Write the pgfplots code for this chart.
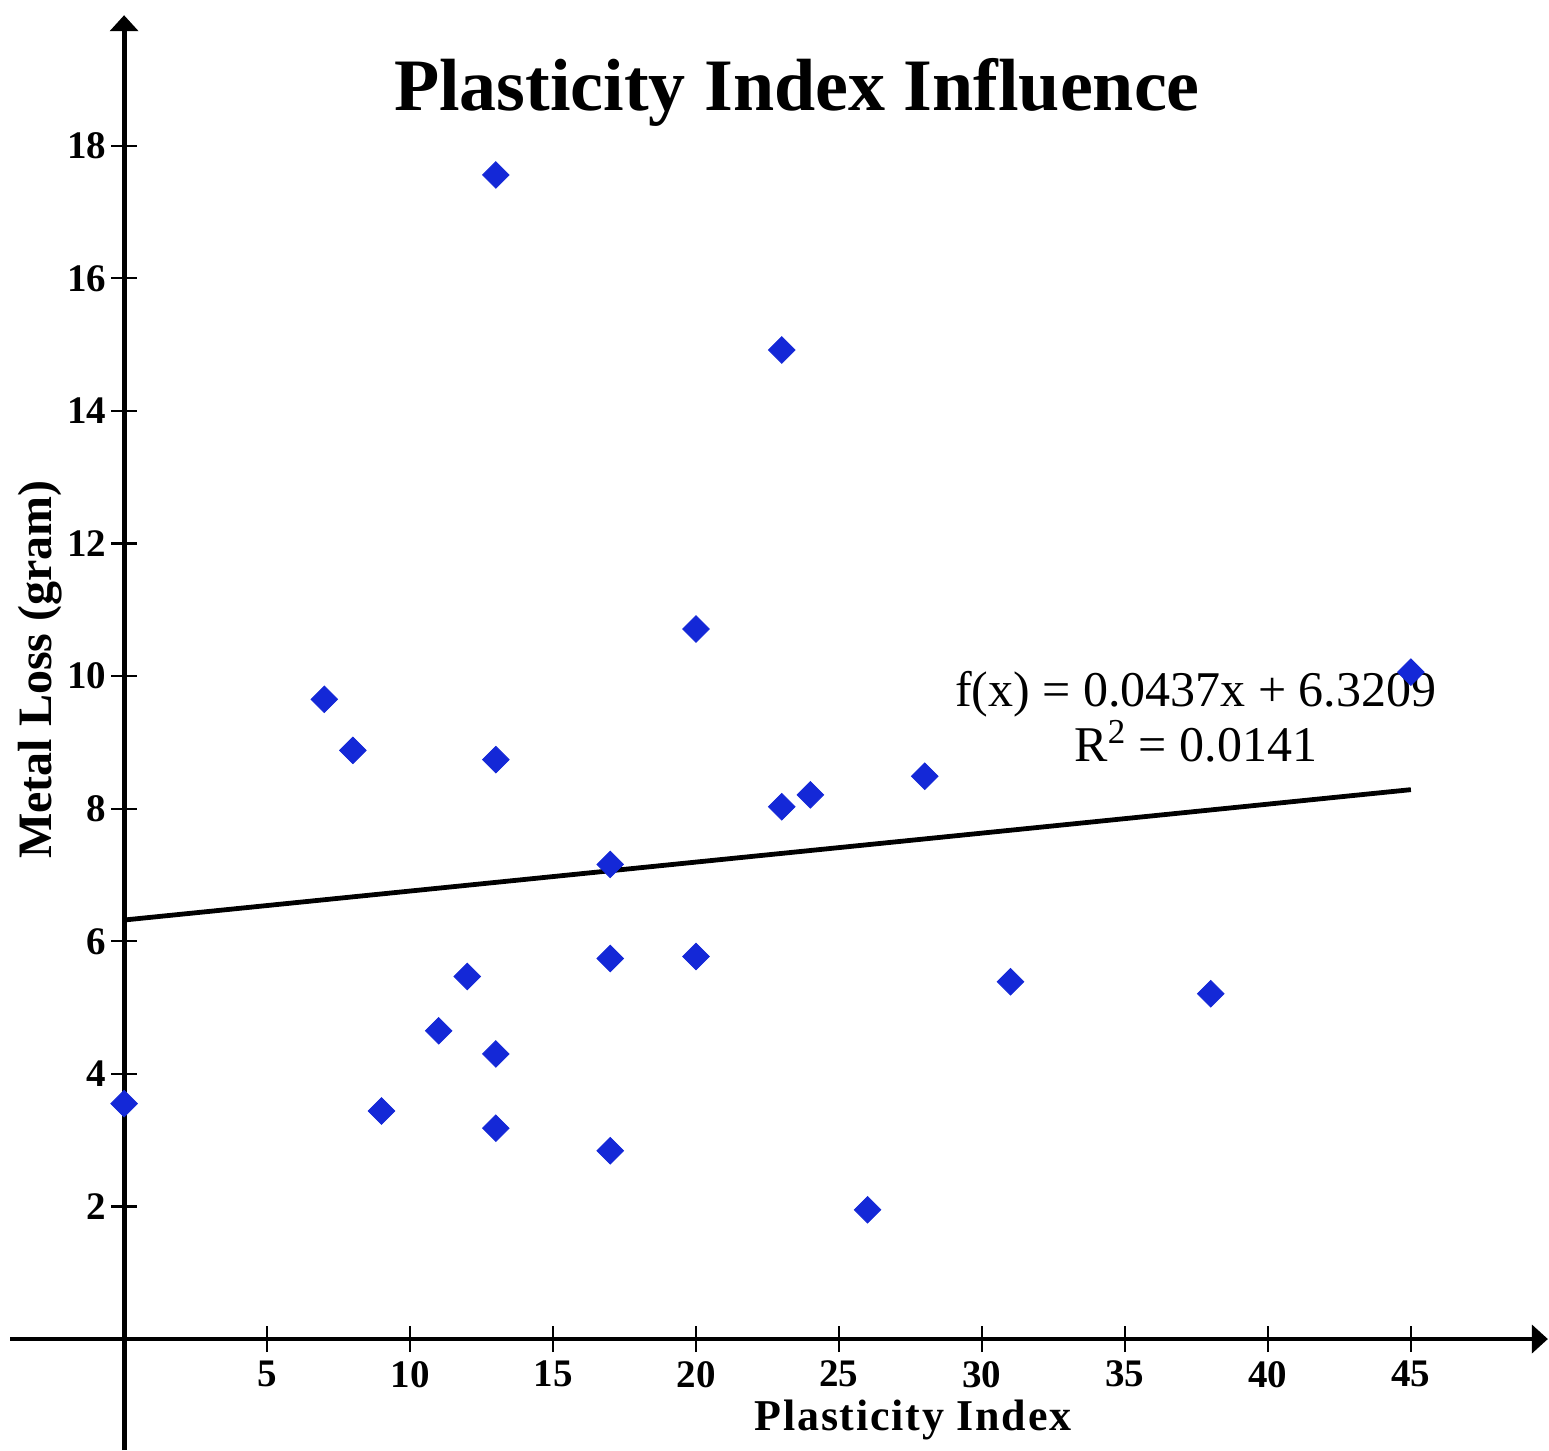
\documentclass[border=0pt]{standalone}
\usepackage{fontspec}
\setmainfont{Liberation Serif}
\usepackage{pgfplots}
\pgfplotsset{compat=1.18}
\usetikzlibrary{arrows.meta}
\definecolor{ptblue}{RGB}{20,40,215}
\begin{document}
\begin{tikzpicture}
\begin{axis}[
  x=14.3pt, y=33.15pt,
  xmin=-3.99, xmax=49.79, ymin=-1.674, ymax=19.97,
  axis lines=middle,
  axis line style={line width=2.4pt, -{Triangle[length=8pt,width=14pt]}},
  xtick={5,10,...,45}, ytick={2,4,...,18},
  tick align=center, major tick length=13pt,
  tick style={line width=1.1pt, black},
  /pgf/number format/assume math mode=true,
  tick label style={font=\fontsize{19.5}{19.5}\selectfont\bfseries},
  xticklabel style={yshift=-1pt},
  yticklabel style={xshift=1pt},
  clip=false,
]
\addplot[only marks, mark=square*, mark size=4.7pt, color=ptblue,
  every mark/.append style={rotate=45}] coordinates {
(0,3.55) (7,9.65) (8,8.88) (9,3.44) (11,4.65) (12,5.47) (13,17.56) (13,8.74)
(13,4.30) (13,3.18) (17,7.16) (17,5.74) (17,2.84) (20,10.71) (20,5.77)
(23,14.92) (23,8.03) (24,8.21) (26,1.95) (28,8.49) (31,5.39) (38,5.21) (45,10.06)
};
\addplot[black, line width=2.4pt] coordinates {(0,6.3209) (45,8.2874)};
\node[font=\fontsize{37}{37}\selectfont\bfseries] at (axis cs:23.53,18.81) {Plasticity Index Influence};
\node[font=\fontsize{25}{27.5}\selectfont, align=center] at (axis cs:37.48,9.38) {f(x) = 0.0437x + 6.3209\\R\textsuperscript{2} = 0.0141};
\node[font=\fontsize{22}{22}\selectfont\bfseries\addfontfeatures{LetterSpace=4}] at (axis cs:27.59,-1.22) {Plasticity Index};
\node[font=\fontsize{24}{24}\selectfont\bfseries, rotate=90] at (axis cs:-2.94,10.1) {Metal Loss (gram)};
\coordinate (bl) at (axis cs:-4.34,-1.674);
\coordinate (tr) at (axis cs:49.83,20.2);
\end{axis}
\pgfresetboundingbox
\useasboundingbox (bl) rectangle (tr);
\end{tikzpicture}
\end{document}
